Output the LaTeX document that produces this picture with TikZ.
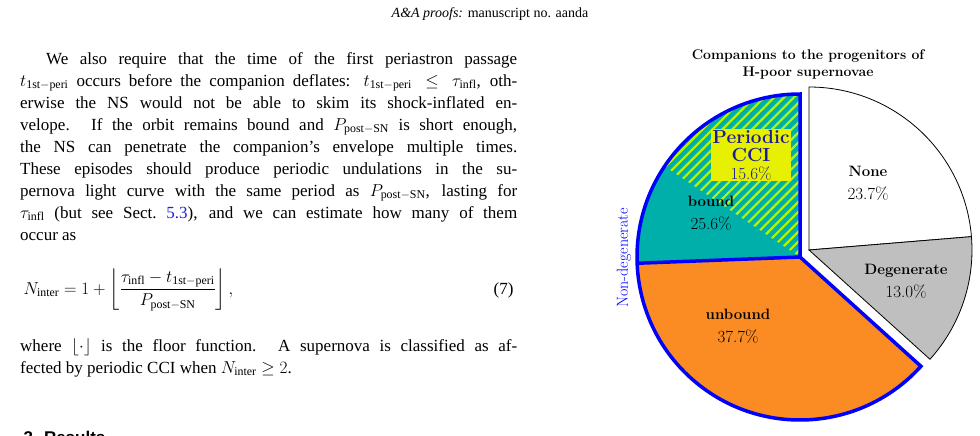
\documentclass[tikz,border=0pt]{standalone}
\usepackage{amsmath}
\usepackage{fontspec}
\setmainfont{Liberation Serif}
\setsansfont{Liberation Sans}
\newfontfamily\piefont{Latin Modern Roman}
\usetikzlibrary{patterns.meta}
\definecolor{pieteal}{HTML}{00AFAA}
\definecolor{orng}{HTML}{FA8C23}
\definecolor{cciyel}{HTML}{E6F000}
\definecolor{cciblue}{HTML}{1C1C9A}
\definecolor{linkblue}{HTML}{2020E0}
\tikzset{
  body/.style={anchor=north west, align=justify, text width=497pt, inner sep=0pt,
    font=\fontsize{17}{22}\selectfont},
  pielabel/.style={align=center, font=\piefont\fontsize{17}{23}\selectfont},
  degslice/.style={draw=black, line width=0.8pt},
  nondeg/.style={draw=blue, line width=3.5pt, line join=miter},
}
\begin{document}
\begin{tikzpicture}[x=1pt, y=-1pt]
    \useasboundingbox (0,0) rectangle (980,436);
    \clip (0,0) rectangle (980,436);
    % page header
    \node (header) at (490,14) {\fontsize{14}{16}\selectfont\textit{A\&A proofs:} manuscript no. aanda};
    % body text
    \node[body] (para) at (20,52) {\hspace*{26pt}We also require that the time of the first periastron passage
      $t_{\rm 1st-peri}$ occurs before the companion deflates: $t_{\rm 1st-peri}\le\tau_{\rm infl}$, oth-\linebreak
      erwise the NS would not be able to skim its shock-inflated en-\linebreak
      velope. If the orbit remains bound and $P_{\rm post-SN}$ is short enough,
      the NS can penetrate the companion's envelope multiple times.
      These episodes should produce periodic undulations in the su-\linebreak
      pernova light curve with the same period as $P_{\rm post-SN}$, lasting for\linebreak
      $\tau_{\rm infl}$ (but see Sect.~\textcolor{linkblue}{5.3}), and we can estimate how many of them\linebreak
      occur as\par};
    \node[anchor=west, font=\fontsize{17}{22}\selectfont] (eq) at (20,290)
      {$N_{\rm inter}=1+\left\lfloor\dfrac{\tau_{\rm infl}-t_{\rm 1st-peri}}{P_{\rm post-SN}}\right\rfloor,$};
    \node[anchor=east, font=\fontsize{17}{22}\selectfont] (eqno) at (517,290) {(7)};
    \node[body] (where) at (20,338) {where $\lfloor\cdot\rfloor$ is the floor function. A supernova is classified as af-\linebreak
      fected by periodic CCI when $N_{\rm inter}\ge2$.\par};
    \node[anchor=west, font=\sffamily\bfseries\fontsize{17}{20}\selectfont] (results) at (20,437) {3. Results};
    % pie chart
    \coordinate (ctrA) at (800,257);
    \coordinate (ctrB) at (809,250);
    \node[font=\piefont\bfseries\fontsize{14}{17}\selectfont, align=center] (title) at (808,64)
      {Companions to the progenitors of\\H-poor supernovae};
    \fill[white, degslice] (ctrB) -- ++(-90:163) arc[start angle=-90, end angle=-4.7, radius=163] -- cycle;
    \fill[gray!50, degslice] (ctrB) -- ++(-4.7:163) arc[start angle=-4.7, end angle=42.1, radius=163] -- cycle;
    \fill[orng] (ctrA) -- ++(42.1:163) arc[start angle=42.1, end angle=177.8, radius=163] -- cycle;
    \fill[pieteal] (ctrA) -- ++(177.8:163) arc[start angle=177.8, end angle=270, radius=163] -- cycle;
    \fill[pattern={Lines[angle=45, distance=7pt, line width=2.2pt]}, pattern color=cciyel!80!green]
      (ctrA) -- ++(213.8:163) arc[start angle=213.8, end angle=270, radius=163] -- cycle;
    \draw[nondeg] (ctrA) -- ++(42.1:163) arc[start angle=42.1, end angle=270, radius=163] -- cycle;
    \draw[nondeg] (ctrA) -- ++(177.8:163);
    \node[pielabel] (none) at (868,183) {\bfseries\fontsize{15}{17}\selectfont None\\23.7\%};
    \node[pielabel] (degen) at (906,281) {\bfseries\fontsize{15}{17}\selectfont Degenerate\\13.0\%};
    \node[pielabel] (unbound) at (738,326) {\bfseries\fontsize{15}{17}\selectfont unbound\\37.7\%};
    \node[pielabel] (bound) at (711,213) {\bfseries\fontsize{15}{17}\selectfont bound\\25.6\%};
    \node[pielabel, fill=cciyel, text=cciblue, inner sep=1pt, font=\piefont\fontsize{17}{18}\selectfont] (cci) at (751,155)
      {\bfseries\fontsize{19}{18}\selectfont Periodic\\\bfseries\fontsize{19}{18}\selectfont CCI\\15.6\%};
    \node[rotate=90, text=blue, font=\piefont\fontsize{16}{18}\selectfont] (nondeglabel) at (624,258) {Non-degenerate};
\end{tikzpicture}
\end{document}
